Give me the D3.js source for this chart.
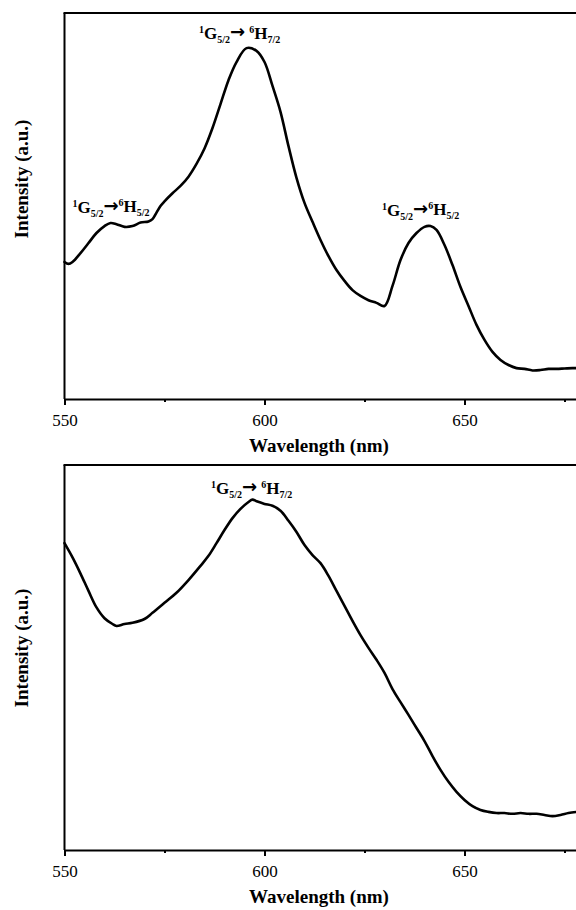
<!DOCTYPE html>
<html>
<head>
<meta charset="utf-8">
<script src="https://cdn.jsdelivr.net/npm/d3@7"></script>
<style>
  html, body { margin: 0; padding: 0; background: #fff; }
  svg { display: block; }
  svg text { font-family: "Liberation Serif", "Tinos", "Times New Roman", "DejaVu Serif", serif; fill: #000; }
  svg text tspan.arrow { font-family: "DejaVu Sans", sans-serif; }
</style>
</head>
<body>
<svg id="chart" width="576" height="910"></svg>
<script>
// ---------- DATA ----------
// Top panel: wavelength (nm) and intensity (a.u.)
const topWavelength = [550,551,552,554,556,558,560,561.5,563,565,567,569,571,572,573,574,575,577,579,581,583,585,587,589,591,593,595.5,598,600,602,604,606,608,610,612,614,616,618,620,622,624,626,628,630,632,634,636,638,640,641.5,643,645,647,649,651,653,655,657,659,661,663,665,667,669,671,673,675,677,679];
const topIntensity  = [35.5,35.0,35.5,37.8,40.4,43.0,44.8,45.6,45.3,44.6,44.8,45.7,46.0,46.6,48.3,50.0,51.2,53.3,55.2,57.6,60.9,64.9,70.2,76.4,82.6,87.3,90.9,90.2,87.3,81.1,74.4,65.5,57.3,50.8,45.9,41.2,37.0,33.4,30.6,28.2,26.7,25.6,24.9,24.1,29.3,36.0,40.4,43.0,44.6,44.8,43.8,39.9,34.7,29.0,24.1,19.2,15.3,12.2,10.1,8.8,8.0,7.8,7.4,7.5,7.8,7.8,7.9,8.0,8.0];

// Bottom panel
const bottomWavelength = [550,552,554,556,558,560,562,563,565,567,570,572,575,578,581,584,586,588,590,592,594,596,597,598,600,602,604,606,608,610,612,614,616,618,620,622,624,626,628,630,632,634,636,638,640,642,644,646,648,650,652,654,656,658,660,662,664,666,668,670,672,674,676,678];
const bottomIntensity  = [79.7,76.0,71.8,67.3,63.0,60.2,58.7,58.2,58.7,59.0,60.0,61.6,64.2,66.8,70.1,73.8,76.4,79.7,83.1,86.2,88.6,90.4,91.0,90.6,89.9,89.4,88.1,85.5,82.6,79.2,76.6,74.5,71.2,67.3,63.4,59.5,55.8,52.5,49.4,46.0,41.8,38.4,35.1,31.7,28.3,24.4,20.8,17.7,15.1,13.0,11.4,10.4,9.9,9.6,9.6,9.4,9.6,9.4,9.4,9.1,8.8,9.1,9.6,9.9];

const xMajorTicks = [550, 600, 650];
const xMinorTicks = [575, 625, 675];
const xDomain = [550, 700];
const yDomain = [0, 100];

const xTitle = "Wavelength (nm)";
const yTitle = "Intensity (a.u.)";

// Transition labels
const topLabels = [
  { wl: 583.6, val: 93.3, lower: ["1","G","5/2"], upper: ["6","H","7/2"], gap: true },
  { wl: 552.0, val: 48.2, lower: ["1","G","5/2"], upper: ["6","H","5/2"], gap: false },
  { wl: 629.4, val: 47.4, lower: ["1","G","5/2"], upper: ["6","H","5/2"], gap: false }
];
const bottomLabels = [
  { wl: 586.6, val: 92.5, lower: ["1","G","5/2"], upper: ["6","H","7/2"], gap: true }
];

// ---------- DRAWING ----------
const svg = d3.select("#chart");
svg.append("rect").attr("width", 576).attr("height", 910).attr("fill", "#fff");

const x = d3.scaleLinear().domain(xDomain).range([64.5, 664.5]);

function drawPanel(top, bottom, wl, inten, labels, yLabelCenter) {
  const y = d3.scaleLinear().domain(yDomain).range([bottom, top]);
  const g = svg.append("g");

  g.append("line").attr("x1", x(xDomain[0]) - 1).attr("x2", x(xDomain[1]))
    .attr("y1", top).attr("y2", top).attr("stroke", "#000").attr("stroke-width", 2);
  g.append("line").attr("x1", x(xDomain[0])).attr("x2", x(xDomain[0]))
    .attr("y1", top).attr("y2", bottom).attr("stroke", "#000").attr("stroke-width", 2);

  const axis = d3.axisBottom(x).tickValues(xMajorTicks).tickSize(6).tickPadding(9)
    .tickFormat(d3.format("d"));
  const ag = g.append("g").attr("transform", `translate(0,${bottom})`).call(axis);
  ag.attr("font-family", null).attr("font-size", null);
  ag.select(".domain").attr("stroke", "#000").attr("stroke-width", 2);
  ag.selectAll(".tick line").attr("stroke", "#000").attr("stroke-width", 2);
  ag.selectAll(".tick text").attr("font-size", 17).attr("fill", "#000");
  const minor = d3.axisBottom(x).tickValues(xMinorTicks).tickSize(3).tickFormat("");
  const mg = g.append("g").attr("transform", `translate(0,${bottom})`).call(minor);
  mg.select(".domain").remove();
  mg.selectAll(".tick line").attr("stroke", "#000").attr("stroke-width", 2);

  g.append("text").attr("x", 319).attr("y", bottom + 53)
    .attr("text-anchor", "middle").attr("font-size", 19).attr("font-weight", "bold")
    .text(xTitle);
  g.append("text").attr("transform", `translate(28,${yLabelCenter}) rotate(-90)`)
    .attr("text-anchor", "middle").attr("font-size", 19).attr("font-weight", "bold")
    .text(yTitle);

  const pts = wl.map((w, i) => [w, inten[i]]);
  const line = d3.line().x(d => x(d[0])).y(d => y(d[1])).curve(d3.curveCatmullRom.alpha(0.5));
  g.append("path").datum(pts).attr("d", line)
    .attr("fill", "none").attr("stroke", "#000").attr("stroke-width", 2.6)
    .attr("stroke-linejoin", "round").attr("stroke-linecap", "round");

  labels.forEach(L => {
    const t = g.append("text").attr("x", x(L.wl)).attr("y", y(L.val))
      .attr("font-weight", "bold").attr("font-size", 17);
    const big = 17, small = 10;
    function state(parts) {
      t.append("tspan").attr("font-size", small).attr("dy", -6).text(parts[0]);
      t.append("tspan").attr("font-size", big).attr("dy", 6).text(parts[1]);
      t.append("tspan").attr("font-size", small).attr("dy", 4).text(parts[2]);
    }
    state(L.lower);
    t.append("tspan").attr("class", "arrow").attr("font-size", 18).attr("dy", -5).text("→");
    t.append("tspan").attr("font-size", big).attr("dy", 1).text(L.gap ? " " : "");
    state(L.upper);
  });
}

drawPanel(13, 399, topWavelength, topIntensity, topLabels, 179);
drawPanel(465, 850, bottomWavelength, bottomIntensity, bottomLabels, 648);
</script>
</body>
</html>
